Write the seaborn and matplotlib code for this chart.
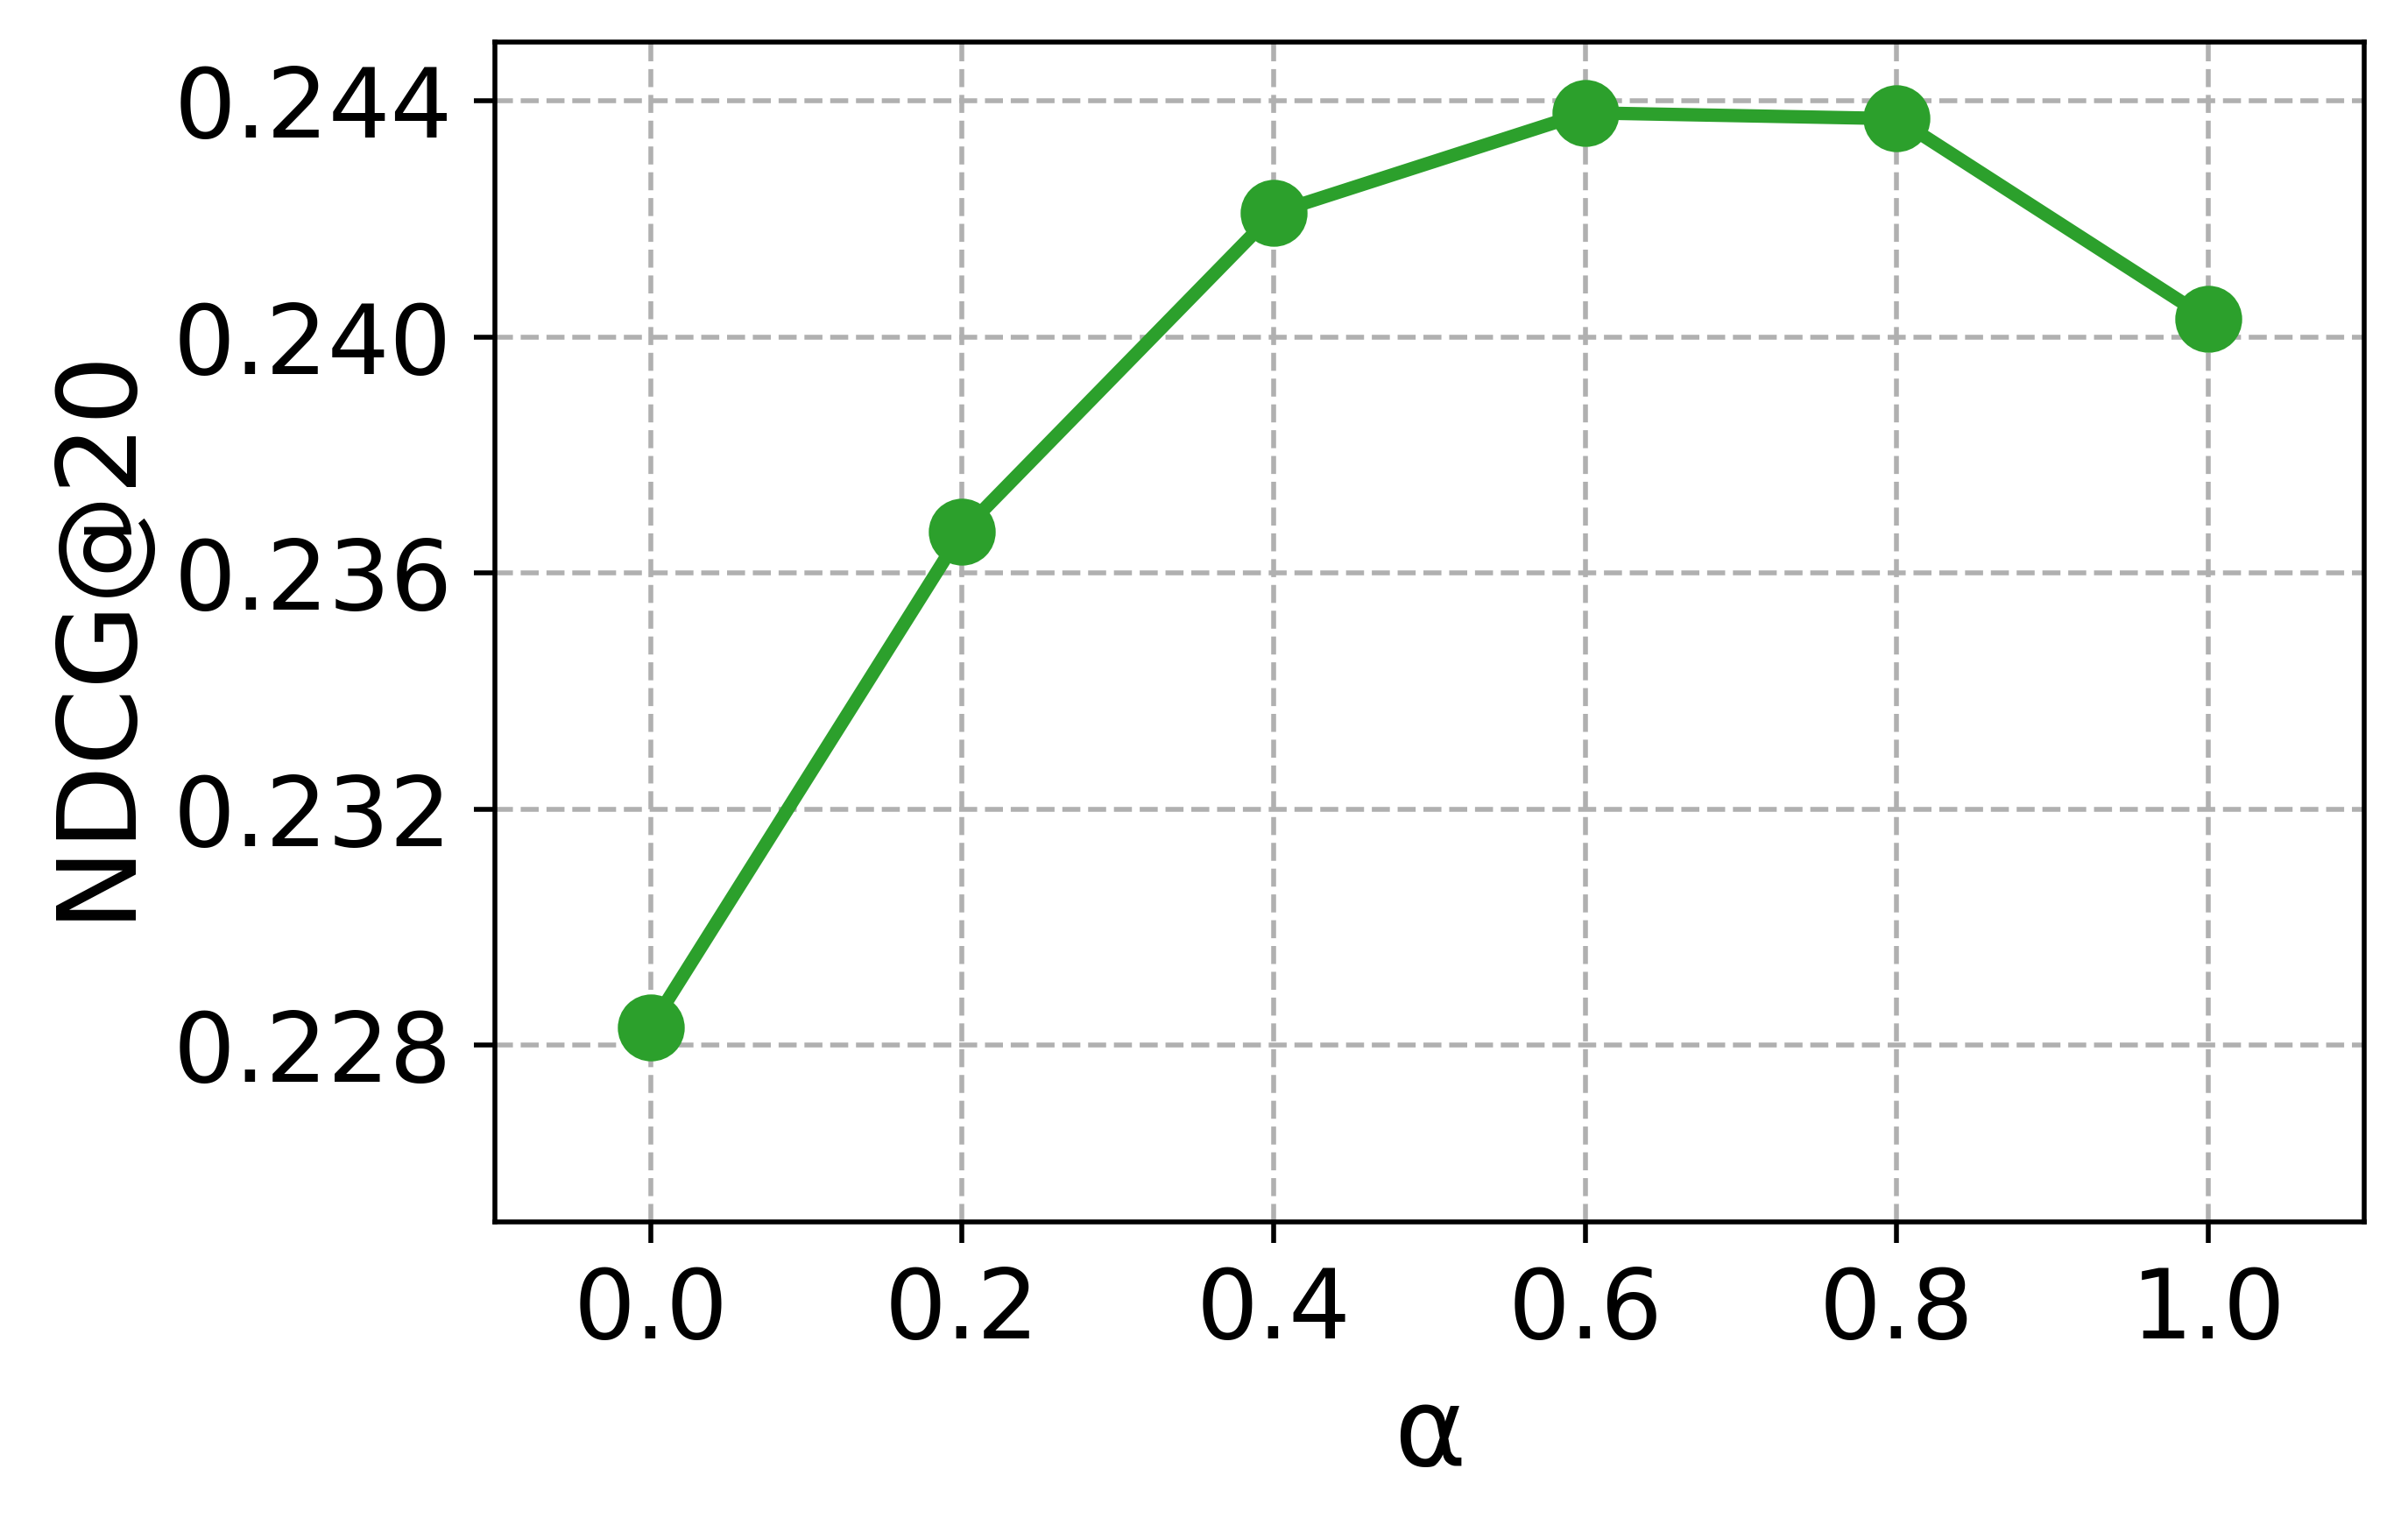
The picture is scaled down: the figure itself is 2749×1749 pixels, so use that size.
import pandas as pd
import matplotlib
matplotlib.use("Agg")
import matplotlib.pyplot as plt
import seaborn as sns

# values
alpha = [0.0, 0.2, 0.4, 0.6, 0.8, 1.0]
ndcg = [0.2283, 0.2367, 0.2421, 0.2438, 0.2437, 0.2403]
x_ticks = [0.0, 0.2, 0.4, 0.6, 0.8, 1.0]
y_ticks = [0.228, 0.232, 0.236, 0.240, 0.244]

sns.set_style("ticks", {"axes.edgecolor": "black", "xtick.color": "black",
                        "ytick.color": "black", "text.color": "black",
                        "axes.labelcolor": "black"})
plt.rcParams['font.family'] = ['DejaVu Sans']

df = pd.DataFrame({'alpha': alpha, 'ndcg': ndcg})
color = '#2ca02c'

fig = plt.figure(figsize=(5.498, 3.498), dpi=500)
ax = fig.add_axes([0.2055, 0.2024, 0.7763, 0.7702])

sns.lineplot(data=df, x='alpha', y='ndcg', ax=ax, color=color, linewidth=2.2,
             marker='o', markersize=10, markeredgecolor=color, markeredgewidth=1)

ax.set_xlim(-0.1, 1.1)
ax.set_ylim(0.225, 0.245)
ax.set_xticks(x_ticks)
ax.set_yticks(y_ticks)
ax.set_xticklabels([f"{v:.1f}" for v in x_ticks])
ax.set_yticklabels([f"{v:.3f}" for v in y_ticks])
ax.tick_params(axis='both', labelsize=16, length=3.5, width=0.8, direction='out')
ax.grid(True, linestyle='--', color='#b0b0b0', linewidth=0.8)
for s in ax.spines.values():
    s.set_linewidth(0.8)
    s.set_color('black')

ax.set_xlabel('α', fontsize=18)
ax.set_ylabel('NDCG@20', fontsize=18)

fig.savefig('out.png', dpi=500)
